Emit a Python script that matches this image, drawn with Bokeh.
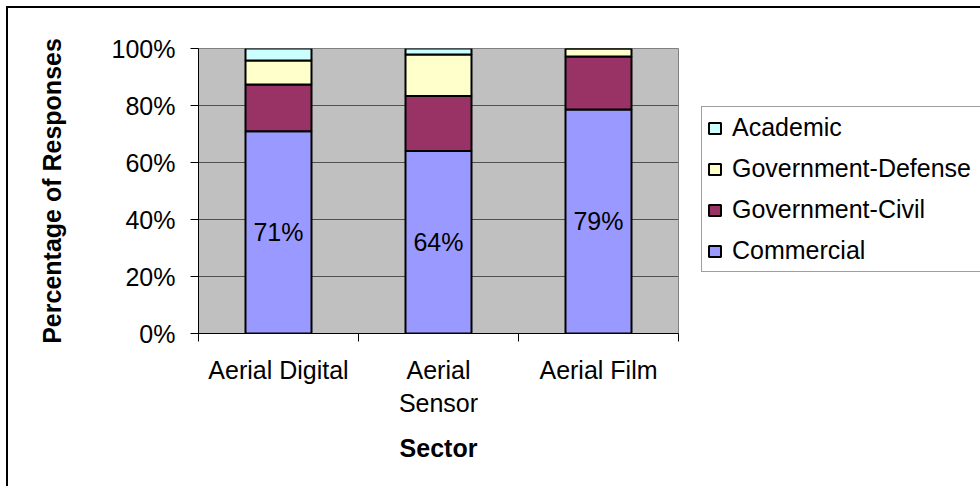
from bokeh.plotting import figure
from bokeh.models import (Range1d, FixedTicker, PrintfTickFormatter, Legend, LegendItem,
                          ColumnDataSource, LabelSet)
from bokeh.core.properties import value
from bokeh.embed import file_html
from bokeh.resources import INLINE

# ---- data ----
categories = ["Aerial Digital", "Aerial Sensor", "Aerial Film"]
tick_labels = ["Aerial Digital", "Aerial\nSensor", "Aerial Film"]
commercial = [71.0, 64.0, 78.6]
gov_civil = [16.4, 19.3, 18.6]
gov_defense = [8.4, 14.6, 2.8]
academic = [4.2, 2.1, 0.0]
series_names = ["Commercial", "Government-Civil", "Government-Defense", "Academic"]
colors = ["#9999FF", "#993366", "#FFFFCC", "#CCFFFF"]
y_ticks = [0, 20, 40, 60, 80, 100]

FONT = "Liberation Sans"

xpos = [i + 0.5 for i in range(len(categories))]
src = ColumnDataSource(dict(
    x=xpos,
    Commercial=commercial,
    **{"Government-Civil": gov_civil,
       "Government-Defense": gov_defense,
       "Academic": academic},
    label_y=[c / 2 for c in commercial],
    label_text=[f"{c:.0f}%" for c in commercial],
))

p = figure(width=971, height=478, output_backend="svg", toolbar_location=None,
           x_range=Range1d(0, len(categories)), y_range=Range1d(0, 100),
           frame_width=480, frame_height=285,
           min_border_left=190, min_border_top=40, min_border_right=301, min_border_bottom=153)
p.styles = {"border-left": "2px solid black", "border-top": "2px solid black",
            "margin-left": "6px", "margin-top": "6px"}

p.background_fill_color = "#C0C0C0"
p.border_fill_color = "white"
p.outline_line_color = "#808080"
p.outline_line_width = 1

renderers = p.vbar_stack(series_names, x="x", width=0.4125, source=src,
                         color=colors, line_color="black", line_width=2)

labels = LabelSet(x="x", y="label_y", text="label_text", source=src,
                  text_align="center", text_baseline="middle",
                  text_font=value(FONT), text_font_size="25px", text_color="black")
p.add_layout(labels)

# grid
p.xgrid.visible = False
p.ygrid.ticker = FixedTicker(ticks=y_ticks)
p.ygrid.grid_line_color = "#505050"
p.ygrid.grid_line_width = 1

# y axis
p.yaxis.ticker = FixedTicker(ticks=y_ticks)
p.yaxis.formatter = PrintfTickFormatter(format="%d%%")
p.yaxis.axis_label = "Percentage of Responses"
p.yaxis.axis_label_text_font = FONT
p.yaxis.axis_label_text_font_style = "bold"
p.yaxis.axis_label_text_font_size = "25px"
p.yaxis.axis_label_text_color = "black"
p.yaxis.axis_label_standoff = 43
p.yaxis.major_label_text_font = FONT
p.yaxis.major_label_text_font_size = "25px"
p.yaxis.major_label_text_color = "black"
p.yaxis.major_label_standoff = 15
p.yaxis.major_tick_out = 8
p.yaxis.major_tick_in = 0
p.yaxis.minor_tick_line_color = None
p.yaxis.axis_line_color = "black"
p.yaxis.major_tick_line_color = "black"

# x axis
p.xaxis.ticker = FixedTicker(ticks=xpos, minor_ticks=list(range(len(categories) + 1)))
p.xaxis.major_label_overrides = {x: t for x, t in zip(xpos, tick_labels)}
p.xaxis.major_tick_out = 0
p.xaxis.major_tick_in = 0
p.xaxis.minor_tick_out = 8
p.xaxis.minor_tick_in = 0
p.xaxis.minor_tick_line_color = "black"
p.xaxis.axis_line_color = "black"
p.xaxis.major_label_text_font = FONT
p.xaxis.major_label_text_font_size = "25px"
p.xaxis.major_label_text_color = "black"
p.xaxis.major_label_standoff = 14
p.xaxis.axis_label = "Sector"
p.xaxis.axis_label_text_font = FONT
p.xaxis.axis_label_text_font_style = "bold"
p.xaxis.axis_label_text_font_size = "25px"
p.xaxis.axis_label_text_color = "black"
p.xaxis.axis_label_standoff = 14

# legend
items = [LegendItem(label=name, renderers=[r]) for name, r in zip(series_names, renderers)][::-1]
legend = Legend(items=items, location=(23, 61), margin=0, padding=5,
                label_text_font=FONT, label_text_font_size="25px", label_text_color="black",
                glyph_width=15, glyph_height=14, label_standoff=10,
                label_height=31, label_width=270, spacing=10,
                border_line_color="#404040", border_line_width=1,
                background_fill_color="white", background_fill_alpha=1)
p.add_layout(legend, "right")

open("out.html", "w").write(file_html(p, INLINE))
